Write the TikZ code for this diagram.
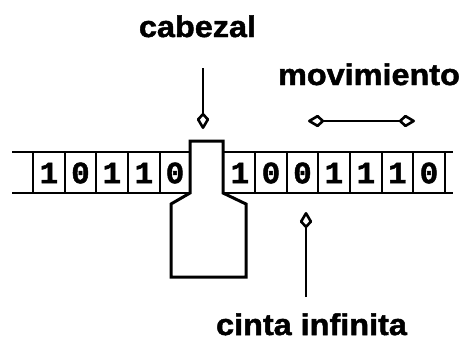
\documentclass[tikz,border=0pt]{standalone}
\usepackage{fontspec}
\usetikzlibrary{arrows.meta}
\newfontfamily\labelfont{Liberation Sans}[FakeStretch=1.08,FakeBold=1.6]
\newfontfamily\digitfont{Liberation Mono}[FakeBold=1.5]
\begin{document}
\begin{tikzpicture}[x=1pt,y=-1pt,
  kitetip/.tip={Kite[open,round,length=18pt,width=13pt,inset=7pt,line width=2.6pt]},
  tip/.style={-kitetip},
  twotip/.style={kitetip-kitetip},
  label/.style={font=\labelfont\bfseries\fontsize{30}{30}\selectfont, anchor=base, inner sep=0pt},
  digit/.style={font=\digitfont\bfseries\fontsize{31}{31}\selectfont, inner sep=0pt},
  tapeline/.style={line width=1.6pt},
  headline/.style={line width=3pt, line join=miter}]
\useasboundingbox (0,0) rectangle (465,341);

% tape edges
\draw[tapeline] (12,152) -- (453,152);
\draw[tapeline] (12,193) -- (453,193);

% cell separators
\foreach \x in {33,65,96,128,160,255,287,318,350,382,413,445}
  \draw[tapeline] (\x,152) -- (\x,193);

% symbols on the tape
\foreach \c/\d [count=\i] in {49/1,80.5/0,112/1,144/1,175/0}
  \node[digit] (l\i) at (\c,173) {\d};
\foreach \c/\d [count=\i] in {240/1,271/0,302.5/0,334/1,366/1,397.5/1,429/0}
  \node[digit] (r\i) at (\c,173) {\d};

% read/write head
\draw[headline, fill=white] (190,141) -- (223,141) -- (223,193) -- (246,204)
  -- (246,277) -- (171,277) -- (171,204) -- (190,193) -- cycle;
\coordinate (headtop) at (203,129);

% labels
\node[label] (cab) at (197.5,37) {cabezal};
\node[label] (mov) at (369,85) {movimiento};
\node[label] (cin) at (311.5,335) {cinta infinita};

% arrows
\coordinate (cabA) at (203,68);
\draw[line width=2pt, tip] (cabA) -- (headtop);
\coordinate (movL) at (308,121);
\coordinate (movR) at (415,121);
\draw[line width=2pt, twotip] (movL) -- (movR);
\coordinate (cinA) at (306,297);
\coordinate (cinB) at (306,212);
\draw[line width=2pt, tip] (cinA) -- (cinB);
\end{tikzpicture}
\end{document}
